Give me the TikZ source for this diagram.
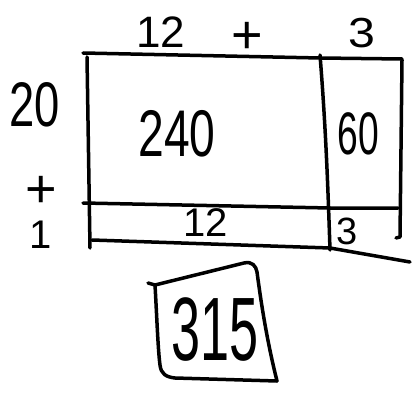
\documentclass[tikz,border=0pt]{standalone}
\usepackage{fontspec}
\setmainfont{Liberation Sans}
\begin{document}
\begin{tikzpicture}[x=1pt,y=-1pt,
  ink/.style={line width=3.5pt,line cap=round,line join=round,black},
  num/.style={inner sep=0pt,anchor=center}]
\useasboundingbox (0,0) rectangle (414,395);
\fill[white] (0,0) rectangle (414,395);
% rectangle
\draw[ink] (83,53) -- (320,58) -- (402,59);
\draw[ink] (87,57) -- (90,248);
\draw[ink] (320,55) .. controls (326,130) and (328,190) .. (330,250);
\draw[ink] (402,60) -- (400,237) -- (396,238);
\draw[ink] (83,203) -- (330,208) -- (398,208);
\draw[ink] (92,240) -- (330,248) -- (410,262);
% labels
\node[num,font=\fontsize{44}{44}\selectfont,xscale=1.0] (t12) at (161,32) {12};
\node[num,font=\fontsize{54}{54}\selectfont] (tplus) at (247,38) {+};
\node[num,font=\fontsize{42}{42}\selectfont,xscale=1.15] (t3) at (362,33) {3};
\node[num,font=\fontsize{63}{63}\selectfont,xscale=0.72] (l20) at (35,105) {20};
\node[num,font=\fontsize{54}{54}\selectfont] (lplus) at (41,192) {+};
\node[num,font=\fontsize{40}{40}\selectfont] (l1) at (41,235) {1};
\node[num,font=\fontsize{66}{66}\selectfont,xscale=0.7] (c240) at (177,134) {240};
\node[num,font=\fontsize{60}{60}\selectfont,xscale=0.62] (c60) at (358,134) {60};
\node[num,font=\fontsize{40}{40}\selectfont,xscale=1.0] (c12) at (206,223) {12};
\node[num,font=\fontsize{38}{38}\selectfont] (c3) at (347,231) {3};
% answer box
\draw[ink] (148,283) -- (155,285) .. controls (157,320) and (158,350) .. (160,365)
  .. controls (161,374) and (166,377) .. (175,378) -- (277,381);
\draw[ink] (155,285) -- (244,263) .. controls (252,261) and (256,266) .. (257,272)
  .. controls (262,310) and (268,345) .. (277,381);
\node[num,font=\fontsize{90}{90}\selectfont,xscale=0.58] (ans) at (215,330) {315};
\end{tikzpicture}
\end{document}
